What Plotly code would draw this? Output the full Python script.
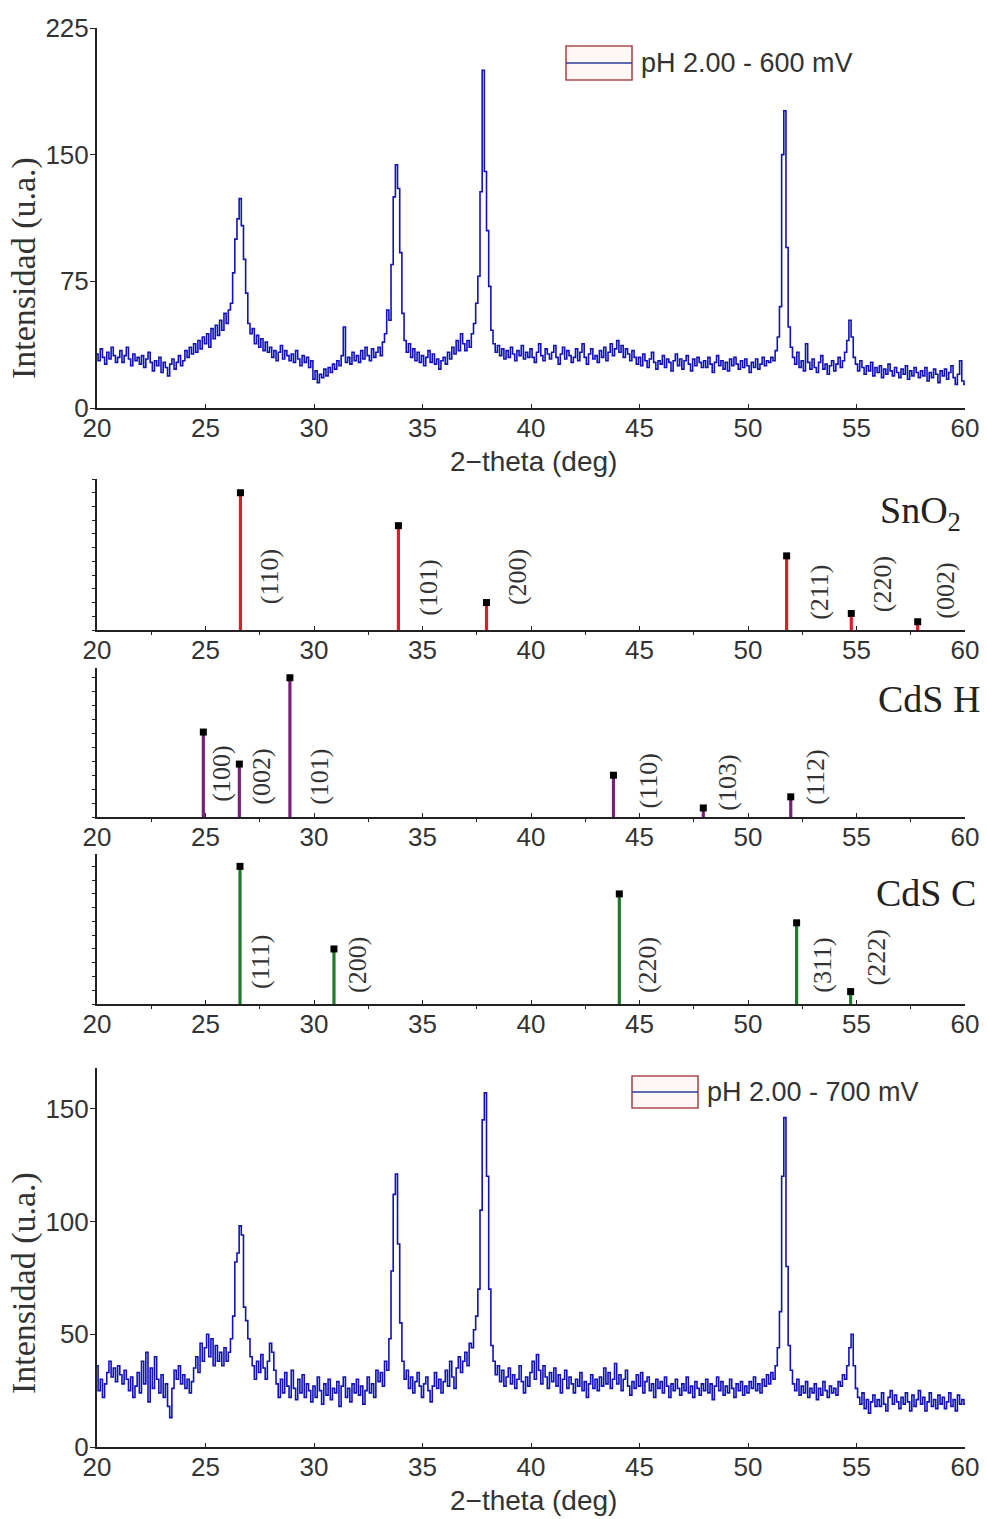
import plotly.graph_objects as go

# ---------------- DATA ----------------
two_theta = [round(20 + 0.1 * i, 1) for i in range(401)]

intensity_600mV = [
    32, 28, 35, 30, 26, 33, 29, 36, 31, 27,
    30, 34, 27, 31, 36, 29, 25, 32, 28, 30,
    26, 31, 24, 29, 33, 27, 22, 28, 25, 30,
    21, 27, 24, 19, 26, 29, 23, 27, 31, 25,
    28, 34, 30, 36, 32, 38, 33, 40, 35, 42,
    38, 44, 36, 47, 41, 49, 43, 52, 46, 56,
    50, 58, 62, 80, 100, 112, 124, 108, 88, 68,
    50, 44, 47, 38, 43, 36, 41, 34, 39, 33,
    36, 30, 34, 28, 33, 37, 29, 34, 31, 28,
    32, 27, 34, 29, 25, 31, 27, 30, 24, 28,
    17, 22, 15, 20, 18, 23, 19, 24, 21, 26,
    23, 28, 25, 31, 48, 27, 30, 26, 33, 28,
    31, 27, 34, 29, 36, 31, 28, 35, 30, 33,
    36, 31, 39, 44, 58, 52, 85, 125, 144, 130,
    92, 56, 40, 33, 38, 30, 35, 28, 33, 27,
    31, 25, 30, 34, 27, 32, 26, 29, 23, 28,
    30, 26, 33, 29, 36, 32, 40, 34, 44, 38,
    34, 40, 36, 44, 50, 62, 78, 128, 200, 140,
    105, 72, 46, 38, 33, 37, 31, 35, 29, 34,
    30, 36, 32, 28, 34, 31, 37, 29, 33, 30,
    35, 30, 27, 33, 38, 31, 28, 35, 32, 29,
    33, 37, 30, 26, 32, 36, 29, 34, 31, 27,
    30, 35, 28, 33, 38, 30, 26, 32, 35, 29,
    31, 27, 34, 30, 36, 28, 33, 38, 31, 35,
    40, 33, 37, 30, 35, 32, 28, 34, 30, 26,
    30, 25, 32, 28, 24, 29, 33, 27, 23, 28,
    26, 31, 24, 29, 27, 22, 28, 32, 25, 29,
    23, 28, 31, 26, 22, 29, 25, 30, 27, 24,
    28, 24, 30, 26, 21, 27, 31, 25, 28, 23,
    27, 22, 29, 25, 30, 26, 23, 28, 24, 29,
    25, 21, 27, 24, 29, 23, 26, 30, 25, 28,
    27, 30, 28, 34, 42, 60, 150, 176, 95, 48,
    36, 30, 26, 33, 24, 28, 22, 38, 27, 23,
    29, 24, 21, 27, 31, 23, 26, 20, 25, 28,
    22, 26, 30, 24, 28, 33, 40, 52, 42, 30,
    26, 22, 28, 24, 20, 25, 22, 27, 19, 24,
    21, 25, 18, 23, 20, 26, 22, 19, 24, 21,
    18, 23, 20, 25, 17, 22, 19, 24, 21, 18,
    22, 19, 24, 16, 21, 18, 23, 20, 15, 22,
    19, 23, 17, 21, 25, 18, 14, 20, 28, 16,
    14,
]

intensity_700mV = [
    36, 25, 30, 22, 28, 33, 38, 31, 35, 29,
    36, 32, 28, 34, 30, 25, 31, 22, 27, 33,
    24, 38, 28, 42, 20, 35, 26, 40, 30, 24,
    32, 22, 28, 18, 13, 26, 34, 30, 36, 28,
    32, 26, 30, 24, 29, 35, 40, 33, 46, 38,
    44, 50, 40, 48, 36, 45, 38, 42, 36, 44,
    38, 42, 48, 58, 82, 86, 98, 94, 62, 56,
    48, 40, 36, 30, 38, 33, 41, 35, 30, 38,
    46, 42, 34, 28, 22, 30, 24, 33, 27, 22,
    34, 26, 21, 30, 24, 32, 22, 28, 25, 20,
    27, 22, 31, 25, 19, 28, 23, 30, 21, 26,
    24, 29, 18, 27, 31, 22, 26, 20, 28, 24,
    30, 23, 27, 19, 25, 31, 24, 28, 22, 34,
    29, 33, 27, 38, 34, 48, 78, 112, 121, 90,
    55, 38, 30, 34, 26, 31, 24, 29, 33, 27,
    22, 28, 31, 25, 20, 27, 33, 26, 30, 24,
    29, 34, 27, 38, 31, 26, 35, 40, 33, 38,
    42, 36, 46, 44, 52, 58, 70, 105, 145, 157,
    120, 70, 45, 38, 32, 36, 29, 34, 27, 31,
    35, 28, 32, 26, 30, 36, 29, 24, 31, 27,
    33, 38, 30, 41, 34, 28, 36, 31, 26, 33,
    29, 35, 27, 32, 24, 30, 34, 26, 31, 28,
    24, 30, 27, 33, 25, 29, 22, 28, 32, 26,
    30, 25, 31, 27, 35, 28, 33, 26, 30, 37,
    28, 32, 25, 30, 34, 27, 23, 29, 26, 32,
    27, 33, 24, 29, 31, 25, 28, 22, 30, 26,
    29, 24, 31, 27, 22, 28, 25, 30, 26, 23,
    28, 25, 31, 24, 27, 22, 29, 26, 23, 28,
    25, 30, 24, 28, 21, 27, 31, 25, 29, 23,
    27, 24, 30, 26, 22, 28, 25, 29, 23, 27,
    24, 29, 26, 31, 25, 28, 24, 30, 27, 32,
    28, 33, 30, 36, 44, 60, 120, 146, 80, 45,
    34, 28, 25, 30, 23, 27, 24, 29, 22, 26,
    24, 28, 21, 26, 23, 29, 25, 22, 27, 24,
    26, 23, 29, 27, 32, 30, 36, 44, 50, 36,
    26, 22, 19, 24, 17, 21, 15, 20, 23, 18,
    21, 18, 24, 19, 16, 22, 25, 19, 23, 20,
    17, 22, 19, 24, 20, 16, 23, 18, 21, 25,
    19, 22, 16, 20, 24, 18, 21, 17, 23, 19,
    22, 17, 20, 24, 18, 21, 16, 23, 19, 21,
    19,
]

sno2_pos = [26.61, 33.89, 37.95, 51.78, 54.76, 57.82]
sno2_int = [100, 76, 20, 54, 12, 6]
sno2_hkl = ["(110)", "(101)", "(200)", "(211)", "(220)", "(002)"]

cdsh_pos = [24.90, 26.56, 28.89, 43.80, 47.94, 51.97]
cdsh_int = [61, 38, 100, 30, 6.5, 14.5]
cdsh_hkl = ["(100)", "(002)", "(101)", "(110)", "(103)", "(112)"]

cdsc_pos = [26.59, 30.92, 44.07, 52.24, 54.73]
cdsc_int = [100, 40, 80, 59, 9]
cdsc_hkl = ["(111)", "(200)", "(220)", "(311)", "(222)"]

x_ticks = [20, 25, 30, 35, 40, 45, 50, 55, 60]
y_ticks_600 = [0, 75, 150, 225]
y_ticks_700 = [0, 50, 100, 150]

# ---------------- LAYOUT HELPERS ----------------
W, H = 987, 1519
def px(x):
    return x / W
def py(y):
    return 1 - y / H

XL, XR = 97, 965
panel_px = {1: (28, 408), 2: (479, 630), 3: (668, 817), 4: (854, 1004), 5: (1068, 1447)}

# label placement (offset in 2-theta from the stick, vertical centre as fraction of panel height)
sno2_lbl_dx = [1.32, 1.41, 1.40, 1.52, 1.44, 1.30]
sno2_lbl_fy = [0.35, 0.28, 0.35, 0.25, 0.30, 0.26]
cdsh_lbl_dx = [0.86, 1.04, 1.39, 1.60, 1.14, 1.16]
cdsh_lbl_fy = [0.29, 0.27, 0.27, 0.24, 0.23, 0.27]
cdsc_lbl_dx = [0.92, 1.06, 1.28, 1.16, 1.21]
cdsc_lbl_fy = [0.28, 0.26, 0.26, 0.26, 0.31]

SANS = "Liberation Sans, Arial, sans-serif"
SERIF = "Liberation Serif, Times New Roman, serif"
TICKFONT = dict(family=SANS, size=26, color="#333333")
AXCOL = "#222222"
LINE_BLUE = "#1212b8"

fig = go.Figure()

# spectra
fig.add_trace(go.Scatter(x=two_theta, y=intensity_600mV, mode="lines", line=dict(color=LINE_BLUE, width=1.6, shape="hvh"),
                         xaxis="x", yaxis="y", showlegend=False))
fig.add_trace(go.Scatter(x=two_theta, y=intensity_700mV, mode="lines", line=dict(color=LINE_BLUE, width=1.6, shape="hvh"),
                         xaxis="x5", yaxis="y5", showlegend=False))

def add_sticks(pos, ints, color, n):
    xs, ys = [], []
    for p, v in zip(pos, ints):
        xs += [p, p, None]
        ys += [0, v, None]
    fig.add_trace(go.Scatter(x=xs, y=ys, mode="lines", line=dict(color=color, width=3.2),
                             xaxis=f"x{n}", yaxis=f"y{n}", showlegend=False))
    fig.add_trace(go.Scatter(x=pos, y=ints, mode="markers",
                             marker=dict(symbol="square", size=7, color="black"),
                             xaxis=f"x{n}", yaxis=f"y{n}", showlegend=False, cliponaxis=False))

add_sticks(sno2_pos, sno2_int, "#d8202c", 2)
add_sticks(cdsh_pos, cdsh_int, "#7a1f7a", 3)
add_sticks(cdsc_pos, cdsc_int, "#1f7a2a", 4)

layout = dict(template="none", width=W, height=H, margin=dict(l=0, r=0, t=0, b=0, pad=0, autoexpand=False),
              paper_bgcolor="white", plot_bgcolor="white", showlegend=False,
              font=dict(family=SANS, size=26, color="#333333"))

y_ranges = {1: [0, 225], 2: [0, 110], 3: [0, 107], 4: [0, 109], 5: [0, 168]}
for n in range(1, 6):
    top, bot = panel_px[n]
    sfx = "" if n == 1 else str(n)
    xax = dict(
        domain=[px(XL), px(XR)], anchor="y" + sfx, range=[20, 60], automargin=False,
        tickmode="array", tickvals=x_ticks, ticktext=[str(v) for v in x_ticks],
        ticks="inside", ticklen=4, tickwidth=1.2, tickcolor=AXCOL,
        showline=True, linecolor=AXCOL, linewidth=2, showgrid=False, zeroline=False,
        tickfont=TICKFONT, fixedrange=True, ticklabelstandoff=-4,
    )
    if n in (2, 3, 4):
        xax["minor"] = dict(tickvals=[22.5, 27.5, 32.5, 37.5, 42.5, 47.5, 52.5, 57.5],
                            ticks="outside", ticklen=3, tickcolor=AXCOL, showgrid=False)
    layout["xaxis" + sfx] = xax
    yax = dict(domain=[py(bot), py(top)], anchor="x" + sfx, range=y_ranges[n], automargin=False,
               showline=True, linecolor=AXCOL, linewidth=2, showgrid=False, zeroline=False,
               ticks="outside", tickcolor=AXCOL, fixedrange=True)
    if n == 1:
        yax.update(tickmode="array", tickvals=y_ticks_600, ticktext=[str(v) for v in y_ticks_600],
                   ticklen=5, tickfont=TICKFONT, ticklabelstandoff=-4)
    elif n == 5:
        yax.update(tickmode="array", tickvals=y_ticks_700, ticktext=[str(v) for v in y_ticks_700],
                   ticklen=5, tickfont=TICKFONT, ticklabelstandoff=-4)
    else:
        yax.update(dtick=10, tick0=0, ticklen=3, showticklabels=False)
    layout["yaxis" + sfx] = yax

annotations = []
# axis titles
for ty in (461, 1500):
    annotations.append(dict(text="2\u2212theta (deg)", x=px(533), y=py(ty), xref="paper", yref="paper",
                            showarrow=False, xanchor="center", yanchor="middle",
                            font=dict(family=SANS, size=28, color="#333333")))
for ty in (268, 1283):
    annotations.append(dict(text="Intensidad (u.a.)", x=px(24), y=py(ty), xref="paper", yref="paper",
                            showarrow=False, textangle=-90, xanchor="center", yanchor="middle",
                            font=dict(family=SERIF, size=34, color="#333333")))

# phase labels
for txt, xr, yc in (("SnO<sub>2</sub>", 963, 513), ("CdS H", 982, 699), ("CdS C", 978, 893)):
    annotations.append(dict(text=txt, x=px(xr), y=py(yc), xref="paper", yref="paper", showarrow=False,
                            xanchor="right", yanchor="middle",
                            font=dict(family=SERIF, size=38, color="#222222")))

# hkl labels
for n, pos, hkl, dxs, fys in ((2, sno2_pos, sno2_hkl, sno2_lbl_dx, sno2_lbl_fy),
                              (3, cdsh_pos, cdsh_hkl, cdsh_lbl_dx, cdsh_lbl_fy),
                              (4, cdsc_pos, cdsc_hkl, cdsc_lbl_dx, cdsc_lbl_fy)):
    for p, t, dx, fy in zip(pos, hkl, dxs, fys):
        annotations.append(dict(text=t, x=p + dx, y=fy, xref=f"x{n}", yref=f"y{n} domain", showarrow=False,
                                textangle=-90, xanchor="center", yanchor="middle",
                                font=dict(family=SERIF, size=26, color="#333333")))

# legends (drawn manually)
shapes = []
for (x0, x1, y0, y1, label) in ((566, 632, 46, 80, "pH 2.00 - 600 mV"), (632, 698, 1076, 1108, "pH 2.00 - 700 mV")):
    shapes.append(dict(type="rect", xref="paper", yref="paper", x0=px(x0), x1=px(x1), y0=py(y1), y1=py(y0),
                       line=dict(color="#b04a4a", width=1.6), fillcolor="rgba(255,240,240,0.6)"))
    ym = (y0 + y1) / 2
    shapes.append(dict(type="line", xref="paper", yref="paper", x0=px(x0), x1=px(x1), y0=py(ym), y1=py(ym),
                       line=dict(color="#2a3c9a", width=1.6)))
    annotations.append(dict(text=label, x=px(x1 + 7), y=py(ym), xref="paper", yref="paper", showarrow=False,
                            xanchor="left", yanchor="middle", font=dict(family=SANS, size=27, color="#333333")))

layout["annotations"] = annotations
layout["shapes"] = shapes
fig.update_layout(**layout)

fig.write_html("out.html")
